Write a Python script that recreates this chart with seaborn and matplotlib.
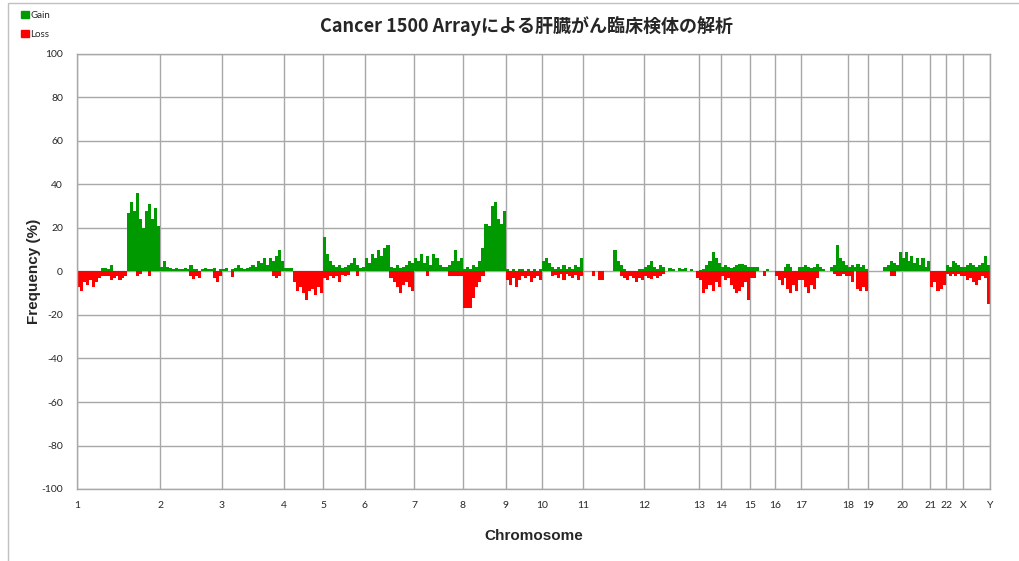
import numpy as np
import pandas as pd
import matplotlib
matplotlib.use('Agg')
import matplotlib.pyplot as plt
import seaborn as sns
from matplotlib.patches import Patch, Rectangle

# chromosome boundaries (array probe index units)
chrom_labels = ['1', '2', '3', '4', '5', '6', '7', '8', '9', '10', '11', '12',
                '13', '14', '15', '16', '17', '18', '19', '20', '21', '22', 'X', 'Y']
chrom_starts = [0, 83, 145, 207, 246, 288, 337, 386, 429, 465, 506, 567,
                622, 644, 673, 698, 724, 771, 791, 825, 853, 869, 886, 913]

# gain / loss frequency (%) per chromosome
gain_1 = [0, 0, 0, 0, 0, 0, 0, 0, 1.5, 1.5, 1, 3, 0, 0, 0, 0, 0, 27, 32, 28, 36, 24, 20, 28, 31, 24, 29, 21]
loss_1 = [-7, -9, -5, -6, -4, -7, -5, -3, -2, -2, -2, -4, -3, -2, -4, -3, -2, 0, 0, 0, -2, -1, 0, 0, -2, 0, 0, 0]
gain_2 = [2, 5, 2, 1.5, 1, 1.5, 1, 1, 1.5, 1, 3, 1, 1, 0, 1, 1.5, 1, 1, 1.5, 0, 1]
loss_2 = [0, 0, 0, 0, 0, 0, 0, 0, 0, 0, -2, -3.5, -2, -3, 0, 0, 0, 0, -3, -5, -2]
gain_3 = [1, 1.5, 0, 1, 1.5, 3, 1.5, 1, 1.5, 2, 3, 2, 5, 4, 6, 3, 6, 5, 7, 10, 5]
loss_3 = [0, 0, 0, -2.5, 0, 0, 0, 0, 0, 0, 0, 0, 0, 0, 0, 0, 0, -2, -3, -2, 0]
gain_4 = [1.5, 1.5, 1.5, 0, 0, 0, 0, 0, 0, 0, 0, 0, 0]
loss_4 = [0, 0, 0, -5, -9, -7, -10, -13, -9, -8, -11, -7, -10]
gain_5 = [16, 8, 5, 3, 2, 3, 1.5, 2, 3, 4, 6, 3, 1.5, 2]
loss_5 = [-3, -4, -2, -3, -2, -5, -1.5, -2, -1.5, 0, 0, -2, 0, 0]
gain_6 = [6, 4, 8, 6, 10, 7, 11, 12, 2, 1.5, 3, 1.5, 2, 3, 5, 4]
loss_6 = [0, 0, 0, 0, 0, 0, 0, 0, -3, -5, -7, -10, -6, -5, -7, -9]
gain_7 = [6, 5, 8, 4, 7, 3, 8, 6, 3, 2, 2, 3, 5, 10, 5, 6]
loss_7 = [0, 0, 0, 0, -2, 0, 0, 0, 0, 0, 0, -2, -2, -2, -2, -2]
gain_8 = [1, 2, 1, 3, 2, 5, 11, 22, 21, 30, 32, 24, 22, 28]
loss_8 = [-17, -17, -17, -12, -7, -5, -2, 0, 0, 0, 0, 0, 0, 0]
gain_9 = [1, 0, 1, 0, 1, 1, 0, 1, 0, 1, 0, 1]
loss_9 = [-4, -6, -3, -7, -4, -2, -3, -2, -5, -3, -2, -4]
gain_10 = [5, 6, 4, 2, 1, 2, 1, 3, 1, 2, 1, 3, 2, 6]
loss_10 = [0, 0, 0, -2, -1.5, -3, -1, -4, -1, -2, -3, -1.5, -4, -2]
gain_11 = [0, 0, 0, 0, 0, 0, 0, 0, 0, 0, 10, 5, 3, 1, 0, 0, 0, 0, 1, 1]
loss_11 = [0, 0, 0, -2, 0, -4, -4, 0, 0, 0, 0, 0, -2, -3, -4, -2, -3, -5, -3, -4]
gain_12 = [2, 3, 5, 2, 1, 3, 2, 0, 1.5, 1, 0, 1.5, 1, 1.5, 0, 1, 0, 0]
loss_12 = [-2, -3, -3.5, -2, -3, -2, -1, 0, 0, 0, 0, 0, 0, 0, 0, 0, 0, -3]
gain_13 = [0.5, 1, 3, 5, 9, 6, 4]
loss_13 = [-4, -10, -8, -6, -9, -5, -7]
gain_14 = [2, 3, 2, 1.5, 2, 3, 3.5, 3.5, 3, 2]
loss_14 = [-2, -4, -3, -6, -8, -10, -9, -7, -5, -13]
gain_15 = [2, 2, 2, 0, 0, 1, 0, 0]
loss_15 = [-3, -3, 0, 0, -2, 0, 0, 0]
gain_16 = [0, 0, 0, 2, 3.5, 2, 0, 0, 2]
loss_16 = [-2, -4, -6, -3, -8, -10, -6, -9, -4]
gain_17 = [2, 3, 2, 1.5, 2, 3.5, 2, 1, 0, 0, 2, 3, 12, 6, 5, 3]
loss_17 = [-4, -7, -10, -6, -8, -3, 0, 0, 0, 0, 0, -1, -2, -2, -1, -2]
gain_18 = [2, 3, 2, 3.5, 2, 3, 1]
loss_18 = [-2, -5, 0, -8, -9, -7, -9]
gain_19 = [0, 0, 0, 0, 0, 2, 3, 5, 4, 3, 9]
loss_19 = [0, 0, 0, 0, 0, 0, 0, -2, -2, 0, 0]
gain_20 = [6, 9, 5, 7, 4, 6, 3, 6, 2, 5]
loss_20 = [0, 0, 0, 0, 0, 0, 0, 0, 0, 0]
gain_21 = [0, 0, 0, 0, 0]
loss_21 = [-7, -5, -9, -8, -6]
gain_22 = [3, 2, 5, 4, 3, 2]
loss_22 = [-1, -2, -1, -2, -1, -2]
gain_x = [2, 3, 4, 3, 2, 3, 4, 7, 3]
loss_x = [-2, -4, -3, -5, -6, -4, -2, -3, -15]

gain_lists = [gain_1, gain_2, gain_3, gain_4, gain_5, gain_6, gain_7, gain_8, gain_9, gain_10, gain_11,
              gain_12, gain_13, gain_14, gain_15, gain_16, gain_17, gain_18, gain_19, gain_20, gain_21,
              gain_22, gain_x]
loss_lists = [loss_1, loss_2, loss_3, loss_4, loss_5, loss_6, loss_7, loss_8, loss_9, loss_10, loss_11,
              loss_12, loss_13, loss_14, loss_15, loss_16, loss_17, loss_18, loss_19, loss_20, loss_21,
              loss_22, loss_x]

rows = []
for i, (g, l) in enumerate(zip(gain_lists, loss_lists)):
    start, end = chrom_starts[i], chrom_starts[i + 1]
    w = (end - start) / len(g)
    for j in range(len(g)):
        rows.append({'pos': round(start + (j + 0.5) * w, 3), 'gain': g[j], 'loss': l[j]})
df = pd.DataFrame(rows)

sns.set_style('white')
plt.rcParams['font.family'] = ['Noto Sans CJK JP', 'DejaVu Sans']

fig = plt.figure(figsize=(10.2, 5.61), dpi=100)
ax = fig.add_axes([77 / 1020, 72 / 561, 913 / 1020, 435 / 561])

grid_c = '#a8a8a8'
sns.barplot(data=df, x='pos', y='gain', native_scale=True, color='#009900', saturation=1,
            width=1.1, linewidth=0, errorbar=None, ax=ax)
sns.barplot(data=df, x='pos', y='loss', native_scale=True, color='#ff0000', saturation=1,
            width=1.1, linewidth=0, errorbar=None, ax=ax)

ax.set_xlim(0, 913)
ax.set_ylim(-100, 100)
ax.set_yticks(range(-100, 101, 20))
ax.set_yticklabels([str(v) for v in range(-100, 101, 20)], fontsize=7.5, family='Lato')
ax.set_xticks(chrom_starts)
ax.set_xticklabels(chrom_labels, fontsize=7.5, family='Lato')
ax.tick_params(axis='both', length=0)
ax.tick_params(axis='x', pad=9)
ax.tick_params(axis='y', pad=10)
ax.grid(True, color=grid_c, linewidth=1)
ax.set_axisbelow(True)
for s in ax.spines.values():
    s.set_color(grid_c)
    s.set_linewidth(1)

ax.set_xlabel('Chromosome', fontsize=11, fontweight='bold', family='Liberation Sans', labelpad=13)
ax.set_ylabel('Frequency (%)', fontsize=11, fontweight='bold', family='Liberation Sans', labelpad=0)

fig.text(526 / 1020, 1 - 26 / 561, 'Cancer 1500 Arrayによる肝臓がん臨床検体の解析',
         ha='center', va='center', fontsize=13, fontweight='bold')

handles = [Patch(color='#009900'), Patch(color='#ff0000')]
fig.legend(handles, ['Gain', 'Loss'], loc='upper left', bbox_to_anchor=(12 / 1020, 1 - 2 / 561),
           frameon=False, handlelength=0.8, handleheight=0.8, labelspacing=1.0,
           handletextpad=0.2, prop={'family': 'Lato', 'size': 7})

fig.patches.append(Rectangle((8 / 1020, -0.1), 1.1, 1 - 3 / 561 + 0.1, transform=fig.transFigure,
                             fill=False, edgecolor='#c0c0c0', linewidth=1))

fig.savefig('out.png', dpi=100)
